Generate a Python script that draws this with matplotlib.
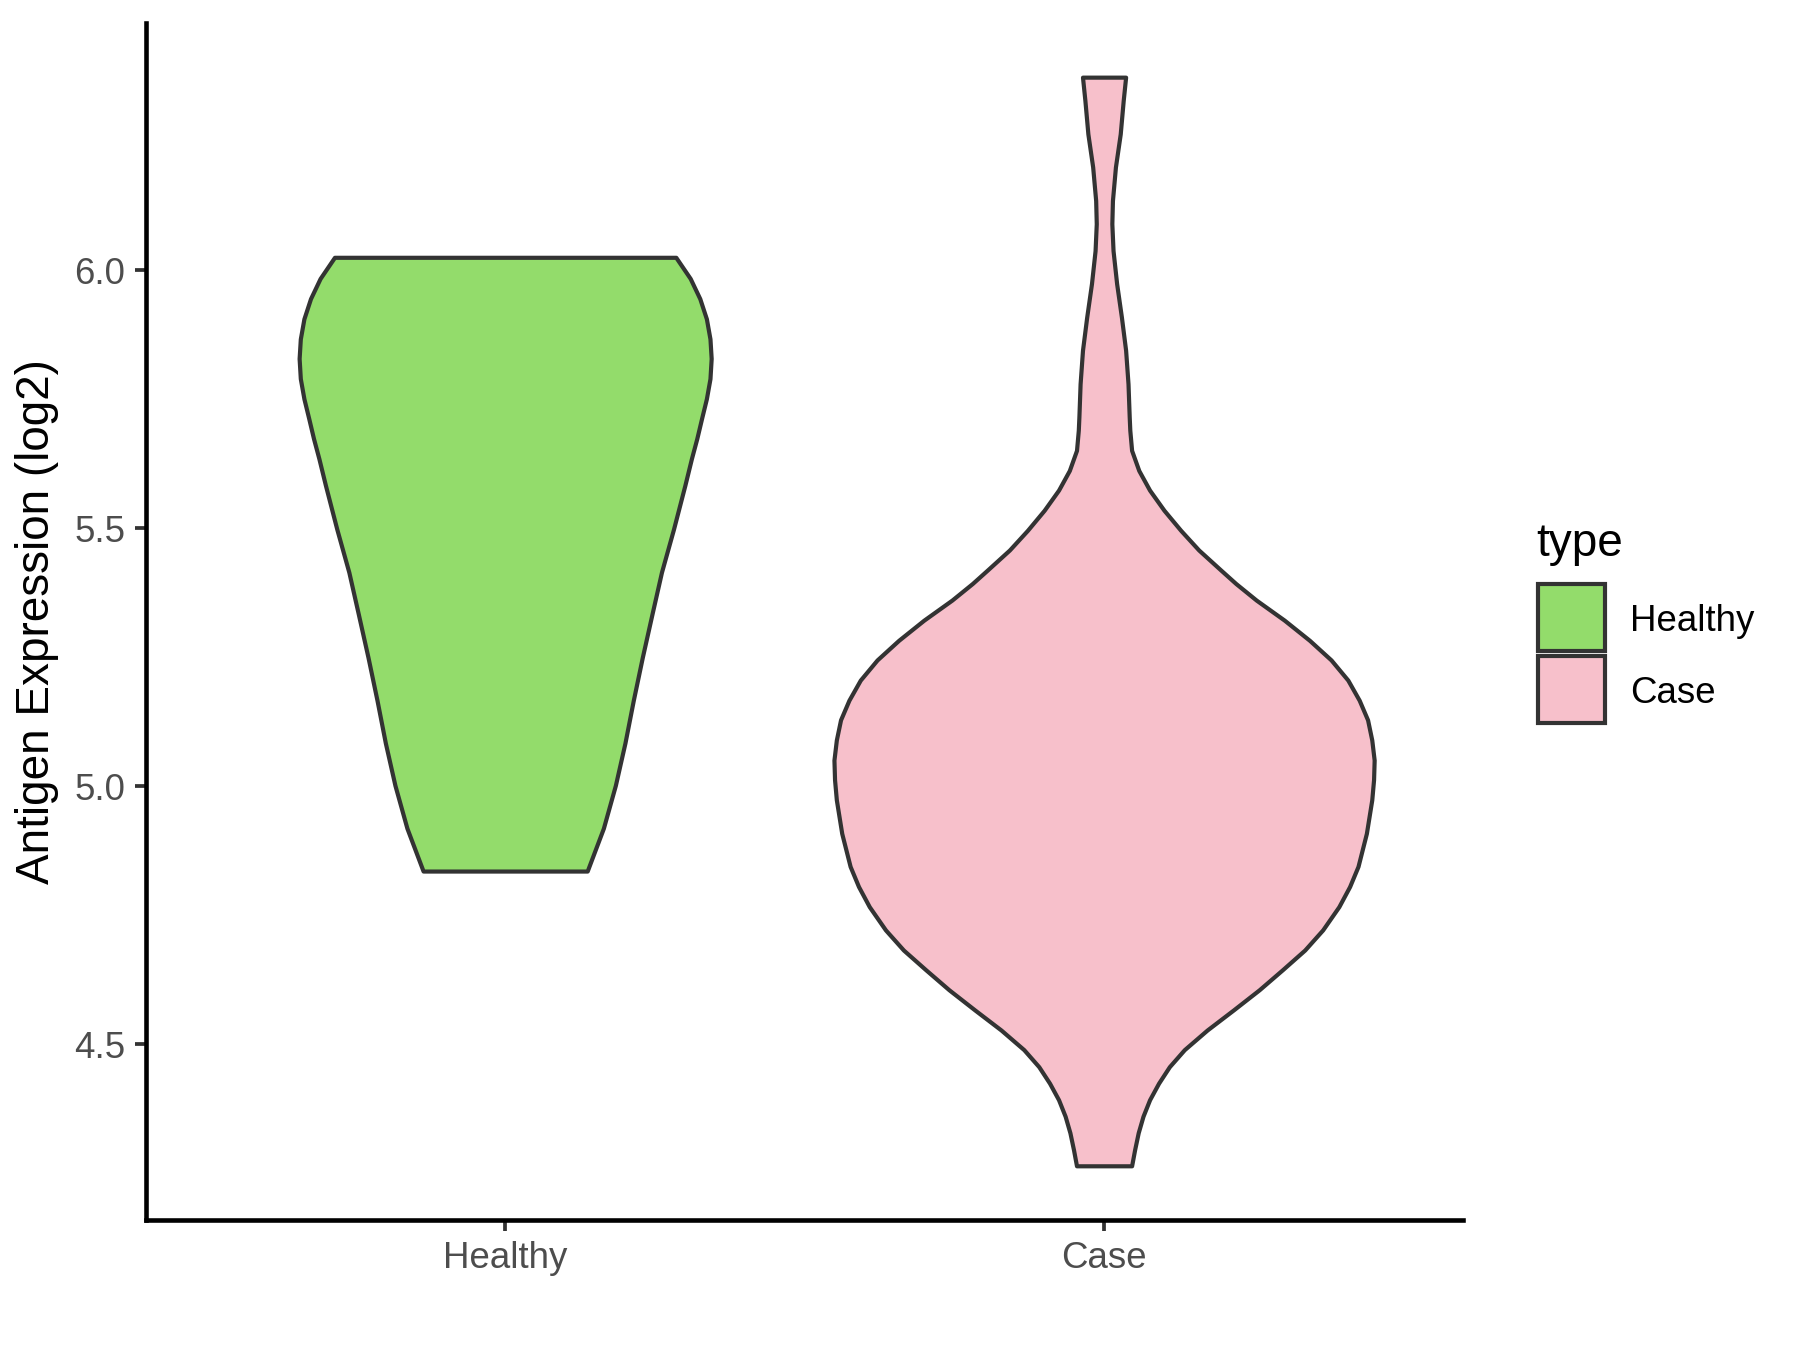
import matplotlib
matplotlib.use("Agg")
import matplotlib.pyplot as plt
from matplotlib.patches import Rectangle

plt.rcParams['font.family'] = ['Liberation Sans', 'DejaVu Sans']

# categories and colours
groups = ['Healthy', 'Case']
fills = ['#93DC6B', '#F7C0CB']

# violin outlines: y level and half-width (x units)
healthy_y = [6.025, 5.984, 5.945, 5.906, 5.867, 5.829, 5.790, 5.751, 5.713, 5.674,
             5.635, 5.583, 5.498, 5.415, 5.333, 5.250, 5.167, 5.084, 5.002, 4.919,
             4.836]
healthy_w = [0.285, 0.309, 0.325, 0.336, 0.342, 0.344, 0.342, 0.336, 0.328, 0.320,
             0.311, 0.300, 0.281, 0.261, 0.245, 0.229, 0.214, 0.200, 0.184, 0.164,
             0.137]

case_y = [6.374, 6.329, 6.264, 6.200, 6.135, 6.090, 6.038, 5.974, 5.909, 5.845,
          5.780, 5.716, 5.690, 5.651, 5.612, 5.574, 5.535, 5.496, 5.458, 5.419,
          5.393, 5.361, 5.322, 5.283, 5.245, 5.206, 5.167, 5.129, 5.090, 5.051,
          5.013, 4.974, 4.909, 4.845, 4.806, 4.767, 4.722, 4.683, 4.645, 4.606,
          4.567, 4.528, 4.490, 4.457, 4.425, 4.393, 4.361, 4.329, 4.296, 4.265]
case_w = [0.036, 0.032, 0.027, 0.019, 0.014, 0.013, 0.015, 0.021, 0.029, 0.036,
          0.040, 0.042, 0.043, 0.046, 0.058, 0.076, 0.100, 0.128, 0.158, 0.195,
          0.220, 0.254, 0.301, 0.343, 0.379, 0.407, 0.426, 0.440, 0.447, 0.451,
          0.450, 0.447, 0.438, 0.424, 0.410, 0.392, 0.365, 0.335, 0.298, 0.259,
          0.216, 0.172, 0.134, 0.109, 0.091, 0.076, 0.065, 0.057, 0.051, 0.046]

profiles = [(healthy_y, healthy_w), (case_y, case_w)]
yticks = [4.5, 5.0, 5.5, 6.0]

fig = plt.figure(figsize=(6, 4.5), dpi=300)
ax = fig.add_axes([0.081, 0.0963, 0.732, 0.8867])

for i, (ys, ws) in enumerate(profiles):
    pos = i + 1
    left = [pos - w for w in ws]
    right = [pos + w for w in ws]
    ax.fill_betweenx(ys, left, right, facecolor=fills[i], edgecolor='#333333',
                     linewidth=1.0, joinstyle='round')

ax.set_xlim(0.4, 2.6)
ax.set_ylim(4.16, 6.479)
ax.set_xticks([1, 2])
ax.set_xticklabels(groups)
ax.set_yticks(yticks)
ax.set_yticklabels([f'{t:.1f}' for t in yticks])

for s in ['top', 'right']:
    ax.spines[s].set_visible(False)
for s in ['left', 'bottom']:
    ax.spines[s].set_linewidth(1.1)
    ax.spines[s].set_color('black')
ax.tick_params(axis='both', length=2.75, width=0.9, color='#333333',
               labelcolor='#4D4D4D', labelsize=8.8, pad=2.2)

ax.set_ylabel('Antigen Expression (log2)', fontsize=11, color='black')
ax.yaxis.set_label_coords(-0.066, 0.5)

# legend drawn by hand, ggplot style
fig.text(0.8533, 0.597, 'type', fontsize=11, ha='left', va='center')
key_h = 0.0496
key_w = key_h * 1350 / 1800
y_top = 0.5674
for i, g in enumerate(groups):
    yb = y_top - (i + 1) * key_h - i * 0.004
    fig.add_artist(Rectangle((0.8546, yb), key_w, key_h, transform=fig.transFigure,
                             facecolor=fills[i], edgecolor='#333333', linewidth=1.0))
    fig.text(0.9056, yb + key_h / 2 - 0.003, g, fontsize=8.8, ha='left', va='center')

fig.savefig('out.png', dpi=300, facecolor='white')
